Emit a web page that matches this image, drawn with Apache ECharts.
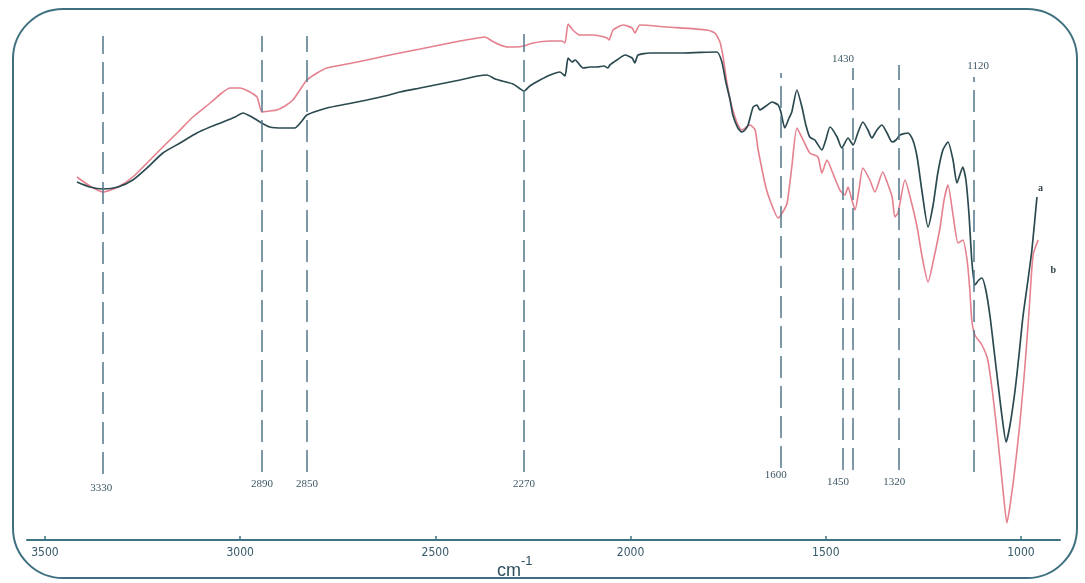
<!DOCTYPE html>
<html><head><meta charset="utf-8">
<script src="https://cdn.jsdelivr.net/npm/echarts@6/dist/echarts.min.js"></script>
<style>html,body{margin:0;padding:0;background:#fff}#c{width:1085px;height:583px}</style>
</head><body><div id="c"></div>
<script>
// Axis tick labels (wavenumber, cm-1)
const xTicks = [3500, 3000, 2500, 2000, 1500, 1000];

// Curve a (dark)
const aWavenumber = [3418,3385,3351,3313,3275,3236,3198,3154,3111,3077,3044,3013,2993,2970,2949,2924,2890,2860,2844,2829,2778,2726,2675,2629,2591,2539,2488,2437,2391,2368,2347,2329,2301,2286,2273,2258,2232,2206,2181,2168,2160,2150,2142,2122,2104,2086,2068,2058,2053,2035,2014,1996,1989,1981,1950,1866,1779,1766,1756,1745,1738,1725,1715,1707,1699,1686,1676,1669,1653,1638,1622,1615,1605,1594,1587,1574,1561,1551,1541,1528,1510,1500,1489,1471,1459,1443,1430,1417,1405,1392,1382,1369,1356,1343,1330,1320,1310,1289,1277,1266,1254,1238,1225,1213,1200,1187,1174,1164,1149,1141,1133,1126,1118,1108,1100,1090,1079,1069,1059,1049,1038,1028,1015,1005,995,982,972,959];
const aTransmittance = [75.0,74.0,73.6,74.0,75.4,78.0,80.8,82.8,84.8,86.0,87.0,88.0,88.8,88.0,87.0,86.0,85.8,85.8,87.0,88.4,89.8,90.6,91.4,92.2,93.0,93.8,94.6,95.4,96.2,96.4,95.6,95.2,94.6,93.8,93.2,94.2,95.4,96.4,97.0,96.2,99.8,99.0,99.4,97.8,98.0,98.0,98.2,97.8,98.4,99.4,100.4,99.8,98.8,100.4,100.8,100.8,101.0,99.0,95.0,91.4,88.4,85.8,85.0,85.4,86.4,90.0,90.4,89.4,90.2,91.0,90.4,89.0,85.8,87.8,89.0,93.4,90.0,86.4,84.0,83.4,81.4,83.4,86.0,84.0,81.8,83.8,82.4,85.0,87.0,85.4,83.8,85.4,86.4,84.8,83.0,83.4,84.4,84.8,83.4,80.0,73.4,66.0,70.4,76.8,81.4,83.0,79.4,74.8,78.0,75.4,68.4,59.4,54.4,55.4,55.8,53.4,48.0,41.4,34.8,28.4,23.0,26.4,33.4,40.4,48.0,55.4,61.4,72.0];

// Curve b (pink)
const bWavenumber = [3418,3385,3351,3313,3275,3236,3198,3159,3121,3077,3047,3026,3001,2980,2957,2944,2924,2906,2885,2865,2847,2829,2803,2778,2726,2675,2629,2591,2539,2488,2437,2391,2373,2355,2334,2314,2296,2273,2250,2206,2176,2168,2160,2148,2130,2099,2078,2060,2055,2045,2019,1996,1989,1976,1907,1804,1784,1771,1763,1753,1743,1727,1715,1694,1681,1674,1663,1653,1643,1622,1610,1599,1587,1574,1558,1541,1520,1510,1497,1482,1464,1451,1443,1433,1425,1415,1405,1387,1374,1354,1343,1330,1323,1315,1297,1282,1266,1254,1238,1223,1207,1197,1187,1174,1161,1149,1138,1131,1126,1118,1100,1085,1072,1059,1046,1036,1026,1015,1002,990,979,969,956];
const bTransmittance = [76.0,74.2,73.0,74.0,76.0,79.0,82.0,85.0,88.0,90.8,92.8,93.8,93.8,93.2,92.0,89.0,89.2,89.4,90.2,91.4,93.4,95.4,96.8,97.8,98.6,99.4,100.2,100.8,101.6,102.4,103.2,103.8,104.0,103.2,102.4,102.0,102.0,102.2,102.8,103.2,103.2,102.8,106.6,105.4,104.4,104.4,104.2,103.8,103.4,105.4,106.4,105.8,104.8,106.4,106.0,105.4,104.8,103.0,100.0,94.8,90.8,86.8,85.4,86.4,85.4,81.8,77.4,73.8,71.4,67.8,69.0,70.8,78.0,85.8,83.4,80.8,80.0,76.8,79.4,76.8,73.4,72.4,74.0,71.4,69.4,73.4,77.8,75.4,73.0,77.0,75.0,72.0,68.0,68.8,75.4,71.4,66.0,60.4,55.0,59.8,66.0,71.4,74.4,68.4,62.8,63.4,59.4,53.4,47.4,44.4,42.4,39.4,32.4,23.4,13.4,6.8,11.4,18.0,27.4,38.0,49.4,60.4,63.4];

// Reference (dashed) lines: drawn position, label text, vertical extent
const refPosition = [3351, 2944, 2829, 2273, 1615, 1456, 1430, 1312, 1120];
const refLabel    = ['3330','2890','2850','2270','1600','1450','1430','1320','1120'];
const refTop      = [104.2, 104.2, 104.2, 104.6, 96.8, 82.0, 97.8, 98.4, 96.0];
const refBottom   = [16.6, 17.0, 17.0, 17.0, 17.8, 17.4, 17.4, 17.4, 17.0];
const refLabelOnTop = [false,false,false,false,false,false,true,false,true];

// label layout tweaks (style, not data)
const refLabelGap = [9, 7, 7, 7, 2, 7, 3, 7, 5];
const refLabelDx  = [-2, 0, 0, 0, -5, -5, -10, -5, 4];

const aData = aWavenumber.map((w, i) => [w, aTransmittance[i]]);
const bData = bWavenumber.map((w, i) => [w, bTransmittance[i]]);

const refLines = refPosition.map((p, i) => [
  {
    coord: [p, refBottom[i]],
    label: {
      show: true,
      formatter: refLabel[i],
      position: refLabelOnTop[i] ? 'end' : 'start',
      distance: refLabelGap[i],
      offset: [refLabelDx[i], 0]
    }
  },
  { coord: [p, refTop[i]] }
]);

const chart = echarts.init(document.getElementById('c'), null, { renderer: 'canvas' });
chart.setOption({
  animation: false,
  backgroundColor: '#ffffff',
  grid: { left: 27, right: 25, top: 20, bottom: 43, containLabel: false },
  xAxis: {
    type: 'value',
    min: 900,
    max: 3546,
    inverse: true,
    splitLine: { show: false },
    axisLine: { show: true, lineStyle: { color: '#3f7384', width: 2 } },
    axisTick: { show: true, inside: true, length: 4, customValues: xTicks, lineStyle: { color: '#3f7384', width: 1.5 } },
    axisLabel: { customValues: xTicks, formatter: v => String(v), color: '#36596a', fontSize: 12, margin: 7,
      fontFamily: 'Liberation Sans Narrow, DejaVu Sans Condensed, Liberation Sans, sans-serif' }
  },
  yAxis: { type: 'value', min: 3.4, max: 107.4, show: false },
  series: [
    {
      name: 'b', type: 'line', data: bData, showSymbol: false, smooth: 0.2,
      lineStyle: { color: '#e5808e', width: 1.6 },
      endLabel: { show: true, formatter: 'b', color: '#2f3f45', fontSize: 10, fontWeight: 'bold',
        fontFamily: 'Liberation Serif, serif', offset: [26, 30] },
      markLine: {
        silent: true, symbol: ['none', 'none'],
        lineStyle: { color: '#52778a', width: 1.5, type: [22, 8] },
        label: { color: '#3d5866', fontSize: 11, fontFamily: 'Liberation Serif, serif' },
        data: refLines
      },
      z: 2
    },
    {
      name: 'a', type: 'line', data: aData, showSymbol: false, smooth: 0.2,
      lineStyle: { color: '#2b4a50', width: 1.7 },
      endLabel: { show: true, formatter: 'a', color: '#2f3f45', fontSize: 10, fontWeight: 'bold',
        fontFamily: 'Liberation Serif, serif', offset: [14, -9] },
      z: 3
    }
  ],
  graphic: [
    { type: 'rect', shape: { x: 13, y: 9, width: 1064, height: 569, r: 50 },
      style: { fill: 'none', stroke: '#3f7080', lineWidth: 2 }, silent: true, z: 10 },
    { type: 'text', left: 497, top: 562,
      style: { text: 'cm', fill: '#2f4f5f', fontSize: 18, fontFamily: 'Liberation Sans, sans-serif' } },
    { type: 'text', left: 521, top: 555,
      style: { text: '-1', fill: '#2f4f5f', fontSize: 13, fontFamily: 'Liberation Sans, sans-serif' } }
  ]
});
</script>
</body></html>
